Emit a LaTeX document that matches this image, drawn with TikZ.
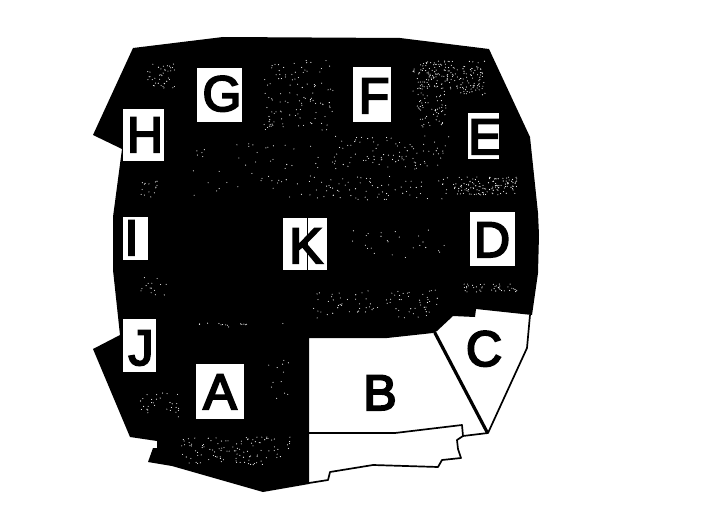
\documentclass[tikz,border=0pt]{standalone}
\usepackage{fontspec}
\setmainfont{Liberation Sans}
\newfontfamily\letterfont[FakeBold=4]{Liberation Sans}
\usetikzlibrary{positioning}
\tikzset{
  outln/.style={line width=1.7pt, line join=round, black},
  divln/.style={line width=3.2pt, line cap=round, black},
  boxnode/.style={fill=white, inner sep=0pt},
  letternode/.style={anchor=base, inner sep=0pt, text=black, font=\letterfont\fontsize{50}{50}\selectfont},
}
\newcommand{\speckle}[5]{%
  \foreach \n in {1,...,#5} {
    \fill[white] ({#1+#3*rand},{#2+#4*rand}) circle (0.55pt);
  }
}
\begin{document}
\begin{tikzpicture}[x=1pt,y=-1pt]
    \useasboundingbox (0,0) rectangle (726,519);
    \pgfmathsetseed{7}
    % dark ground
    \fill[black] (133,48) -- (223,37) -- (400,38) -- (489,49) -- (530,137)
      -- (538,213) -- (539,235) -- (538,273) -- (532,315) -- (476,309)
      -- (475,317) -- (453,316) -- (437,331) -- (433,333) -- (387,338)
      -- (309,338) -- (309,484) -- (263,492) -- (172,466) -- (148,462)
      -- (153,448) -- (157,448) -- (157,441) -- (130,437) -- (93,349)
      -- (120,335) -- (113,270) -- (113,217) -- (122,149) -- (93,135) -- cycle;
    % speckled patches
    \speckle{162}{76}{15}{12}{40}
    \speckle{298}{95}{35}{35}{110}
    \speckle{449}{78}{36}{17}{200}
    \speckle{432}{111}{15}{16}{50}
    \speckle{390}{153}{60}{17}{90}
    \speckle{485}{186}{32}{9}{120}
    \speckle{375}{188}{75}{12}{70}
    \speckle{255}{170}{65}{27}{50}
    \speckle{148}{188}{9}{9}{15}
    \speckle{235}{451}{55}{14}{110}
    \speckle{160}{405}{20}{12}{30}
    \speckle{152}{287}{15}{10}{15}
    \speckle{376}{304}{63}{14}{80}
    \speckle{488}{288}{29}{4}{40}
    \speckle{397}{245}{50}{15}{25}
    \speckle{278}{383}{11}{23}{12}
    \speckle{238}{325}{55}{2}{15}
    % white boxes
    \foreach \lab/\x/\y/\w/\h in {G/219.5/95/45/54, H/143.5/135/41/52, I/135.5/238.5/25/43,
      J/139.5/345.5/33/53, A/220/391.5/48/55, K/305/244/44/52,
      F/372/94.5/38/55, E/483.5/136/31/46, D/492.5/239/45/54} {
      \node[boxnode, minimum width=\w pt, minimum height=\h pt] (box\lab) at (\x,\y) {};
    }
    % letters
    \foreach \lab/\x/\y in {G/222/111, H/145/152, I/131.5/255, J/141/365, A/220/409,
      K/306/263, F/374/113, E/485/154, D/492/257, B/380/410, C/484/366} {
      \node[letternode] (lab\lab) at (\x,\y) {\lab};
    }
    \draw[line width=0.9pt, black] (307,218) -- (307,270);
    % light regions
    \draw[outln] (530,315) -- (527,348) -- (488,433) -- (463,436) -- (462,425)
      -- (395,433) -- (309,433);
    \draw[outln] (463,436) -- (457,440) -- (458,449) -- (461,458) -- (442,460)
      -- (438,467) -- (373,465) -- (330,472) -- (328,480) -- (309,483);
    \draw[divln] (435,333) -- (487,432);
\end{tikzpicture}
\end{document}
